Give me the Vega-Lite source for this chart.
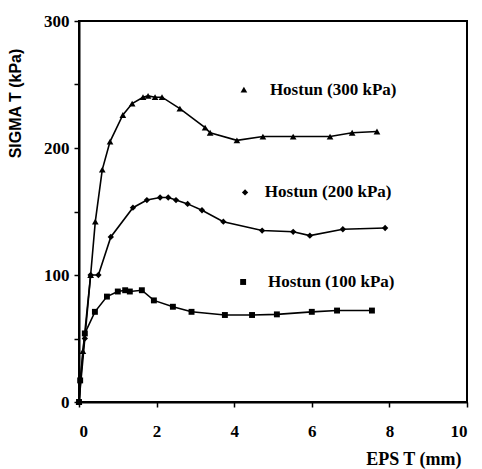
{
  "$schema": "https://vega.github.io/schema/vega-lite/v6.json",
  "width": 388,
  "height": 381,
  "autosize": "none",
  "padding": {"left": 79, "top": 21, "right": 15, "bottom": 67},
  "background": "white",
  "config": {
    "font": "Liberation Serif",
    "view": {"stroke": "black", "strokeWidth": 2},
    "axis": {"domainColor": "black", "domainWidth": 2, "tickColor": "black", "tickWidth": 1.5, "grid": false, "labelColor": "black", "titleColor": "black"}
  },
  "datasets": {
    "curves": [
      {"series": "300", "x": 0, "y": 0},
      {"series": "300", "x": 0.1, "y": 40},
      {"series": "300", "x": 0.3, "y": 100},
      {"series": "300", "x": 0.42, "y": 142},
      {"series": "300", "x": 0.6, "y": 183},
      {"series": "300", "x": 0.8, "y": 205},
      {"series": "300", "x": 1.13, "y": 226},
      {"series": "300", "x": 1.37, "y": 235},
      {"series": "300", "x": 1.65, "y": 240},
      {"series": "300", "x": 1.78, "y": 241},
      {"series": "300", "x": 1.96, "y": 240},
      {"series": "300", "x": 2.14, "y": 240},
      {"series": "300", "x": 2.6, "y": 231},
      {"series": "300", "x": 3.25, "y": 216},
      {"series": "300", "x": 3.38, "y": 212},
      {"series": "300", "x": 4.07, "y": 206},
      {"series": "300", "x": 4.74, "y": 209},
      {"series": "300", "x": 5.52, "y": 209},
      {"series": "300", "x": 6.47, "y": 209},
      {"series": "300", "x": 7.04, "y": 212},
      {"series": "300", "x": 7.68, "y": 213},
      {"series": "200", "x": 0, "y": 0},
      {"series": "200", "x": 0.15, "y": 50},
      {"series": "200", "x": 0.3, "y": 100},
      {"series": "200", "x": 0.5, "y": 100},
      {"series": "200", "x": 0.82, "y": 130},
      {"series": "200", "x": 1.39, "y": 153},
      {"series": "200", "x": 1.75, "y": 159},
      {"series": "200", "x": 2.09, "y": 161},
      {"series": "200", "x": 2.3, "y": 161},
      {"series": "200", "x": 2.5, "y": 159},
      {"series": "200", "x": 2.8, "y": 156},
      {"series": "200", "x": 3.17, "y": 151},
      {"series": "200", "x": 3.72, "y": 142},
      {"series": "200", "x": 4.72, "y": 135},
      {"series": "200", "x": 5.52, "y": 134},
      {"series": "200", "x": 5.95, "y": 131},
      {"series": "200", "x": 6.8, "y": 136},
      {"series": "200", "x": 7.89, "y": 137},
      {"series": "100", "x": 0, "y": 0},
      {"series": "100", "x": 0.03, "y": 17},
      {"series": "100", "x": 0.15, "y": 54},
      {"series": "100", "x": 0.41, "y": 71},
      {"series": "100", "x": 0.72, "y": 83},
      {"series": "100", "x": 1.0, "y": 87},
      {"series": "100", "x": 1.19, "y": 88},
      {"series": "100", "x": 1.31, "y": 87},
      {"series": "100", "x": 1.62, "y": 88},
      {"series": "100", "x": 1.93, "y": 80},
      {"series": "100", "x": 2.42, "y": 75},
      {"series": "100", "x": 2.9, "y": 71},
      {"series": "100", "x": 3.76, "y": 68.5},
      {"series": "100", "x": 4.46, "y": 68.5},
      {"series": "100", "x": 5.1, "y": 69},
      {"series": "100", "x": 6.0, "y": 71},
      {"series": "100", "x": 6.65, "y": 72},
      {"series": "100", "x": 7.55, "y": 72}
    ],
    "labels": [
      {"series": "300", "sx": 4.25, "tx": 4.92, "y": 246, "label": "Hostun (300 kPa)"},
      {"series": "200", "sx": 4.28, "tx": 4.79, "y": 165, "label": "Hostun (200 kPa)"},
      {"series": "100", "sx": 4.23, "tx": 4.87, "y": 94.5, "label": "Hostun (100 kPa)"}
    ]
  },
  "layer": [
    {
      "data": {"name": "curves"},
      "mark": {"type": "line", "color": "black", "strokeWidth": 1.6, "clip": false},
      "encoding": {
        "x": {
          "field": "x", "type": "quantitative",
          "scale": {"domain": [0, 10], "nice": false, "zero": false},
          "axis": {
            "values": [0, 1, 2, 3, 4, 5, 6, 7, 8, 9, 10],
            "labelExpr": "datum.value % 2 === 0 ? datum.label : ''",
            "labelFont": "Liberation Serif", "labelFontSize": 17, "labelFontWeight": "bold",
            "labelPadding": 16, "tickSize": 5,
            "title": "EPS T (mm)", "titleFont": "Liberation Serif", "titleFontSize": 18, "titleFontWeight": "bold",
            "titleAnchor": "end", "titleX": 382, "titleAlign": "right", "titlePadding": 11
          }
        },
        "y": {
          "field": "y", "type": "quantitative",
          "scale": {"domain": [0, 300], "nice": false},
          "axis": {
            "values": [0, 50, 100, 150, 200, 250, 300],
            "labelExpr": "datum.value % 100 === 0 ? datum.label : ''",
            "labelFont": "Liberation Serif", "labelFontSize": 17, "labelFontWeight": "bold",
            "labelPadding": 5, "tickSize": 5,
            "title": "SIGMA T (kPa)", "titleFont": "Liberation Sans", "titleFontSize": 16, "titleFontWeight": "bold",
            "titleAngle": -90, "titleY": 82, "titleAlign": "center", "titleX": -56
          }
        },
        "detail": {"field": "series"}
      }
    },
    {
      "data": {"name": "curves"},
      "mark": {"type": "point", "filled": true, "color": "black", "opacity": 1, "clip": false},
      "encoding": {
        "x": {"field": "x", "type": "quantitative"},
        "y": {"field": "y", "type": "quantitative"},
        "shape": {"field": "series", "type": "nominal", "scale": {"domain": ["300", "200", "100"], "range": ["triangle-up", "diamond", "square"]}, "legend": null},
        "size": {"field": "series", "type": "nominal", "scale": {"domain": ["300", "200", "100"], "range": [45, 35, 45]}, "legend": null}
      }
    },
    {
      "data": {"name": "labels"},
      "mark": {"type": "point", "filled": true, "color": "black", "opacity": 1},
      "encoding": {
        "x": {"field": "sx", "type": "quantitative"},
        "y": {"field": "y", "type": "quantitative"},
        "shape": {"field": "series", "type": "nominal", "scale": {"domain": ["300", "200", "100"], "range": ["triangle-up", "diamond", "square"]}, "legend": null},
        "size": {"field": "series", "type": "nominal", "scale": {"domain": ["300", "200", "100"], "range": [60, 40, 35]}, "legend": null}
      }
    },
    {
      "data": {"name": "labels"},
      "mark": {"type": "text", "align": "left", "baseline": "middle", "font": "Liberation Serif", "fontSize": 17, "fontWeight": "bold", "color": "black"},
      "encoding": {
        "x": {"field": "tx", "type": "quantitative"},
        "y": {"field": "y", "type": "quantitative"},
        "text": {"field": "label"}
      }
    }
  ]
}
